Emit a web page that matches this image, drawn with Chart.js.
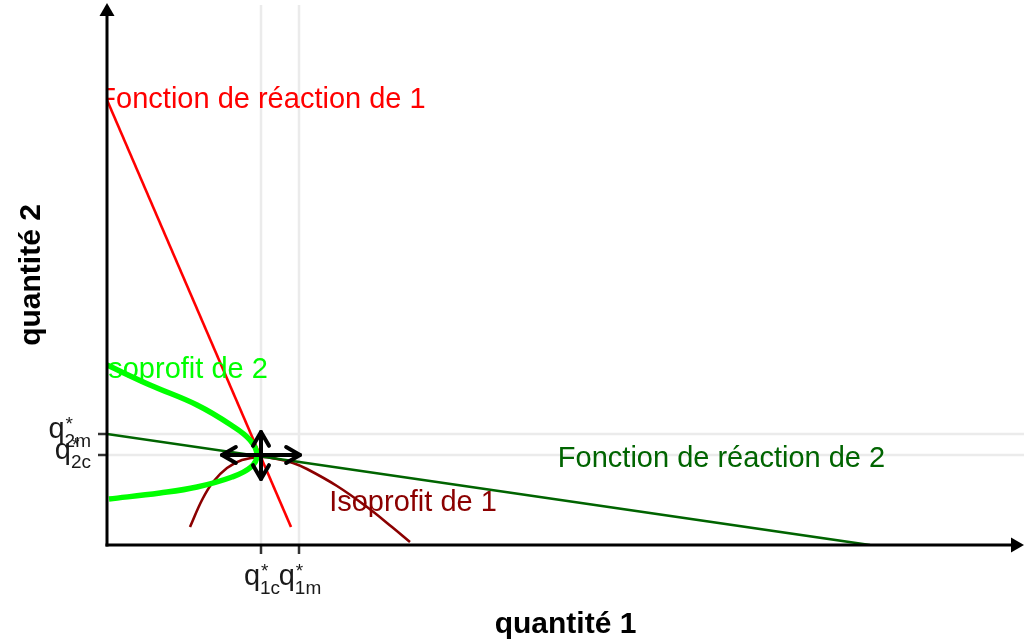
<!DOCTYPE html>
<html>
<head>
<meta charset="utf-8">
<script src="https://cdn.jsdelivr.net/npm/chart.js@4.4.0/dist/chart.umd.min.js"></script>
<style>
  html, body { margin: 0; padding: 0; background: #fff; }
  #wrap { width: 1024px; height: 640px; }
</style>
</head>
<body>
<div id="wrap"><canvas id="chart" width="1024" height="640"></canvas></div>
<script>
// values (quantity units)
const reaction1Q1 = [0, 1.84];
const reaction1Q2 = [4.45, 0.18];

const reaction2Q1 = [0, 7.63];
const reaction2Q2 = [1.11, 0];

const iso1Q1 = [0.83, 0.95, 1.06, 1.2, 1.35, 1.54, 1.7, 1.86, 2.0, 2.3, 2.6, 2.85, 3.03];
const iso1Q2 = [0.18, 0.45, 0.63, 0.77, 0.85, 0.88, 0.86, 0.82, 0.76, 0.59, 0.38, 0.18, 0.03];

const iso2Q1 = [0, 0.43, 0.9, 1.24, 1.43, 1.5, 1.44, 1.25, 0.9, 0.53, 0.02];
const iso2Q2 = [1.8, 1.6, 1.4, 1.2, 1.05, 0.9, 0.78, 0.68, 0.58, 0.52, 0.46];

// equilibrium arrows (ends)
const eqArrowQ1 = [1.15, 1.93];
const eqArrowQ2 = [1.13, 0.66];

// tick positions + labels
const tickQ1 = [1.54, 1.92];
const tickQ1Subs = ["1c", "1m"];
const tickQ2 = [1.11, 0.9];
const tickQ2Subs = ["2m", "2c"];

// text annotations
const labelTexts = ["Fonction de réaction de 1", "Isoprofit de 2", "Fonction de réaction de 2", "Isoprofit de 1"];
const labelQ1 = [1.55, 0.77, 6.145, 3.06];
const labelQ2 = [4.455, 1.755, 0.865, 0.425];
const labelColors = ["#ff0000", "#00ff00", "#006400", "#8b0000"];

const FONT = '"Liberation Sans", Arial, Helvetica, sans-serif';

function pts(xs, ys) {
  return xs.map((v, i) => ({ x: v, y: ys[i] }));
}

function seg(ctx, x1, y1, x2, y2) {
  ctx.beginPath();
  ctx.moveTo(x1, y1);
  ctx.lineTo(x2, y2);
  ctx.stroke();
}

// open chevron head, tip at (tx, ty), pointing along angle
function openHead(ctx, tx, ty, angle) {
  const len = 16, spread = Math.PI / 6;
  ctx.beginPath();
  ctx.moveTo(tx - len * Math.cos(angle - spread), ty - len * Math.sin(angle - spread));
  ctx.lineTo(tx, ty);
  ctx.lineTo(tx - len * Math.cos(angle + spread), ty - len * Math.sin(angle + spread));
  ctx.stroke();
}

function closedHead(ctx, tx, ty, angle) {
  const len = 13, half = 7.5;
  const bx = tx - len * Math.cos(angle), by = ty - len * Math.sin(angle);
  ctx.beginPath();
  ctx.moveTo(tx, ty);
  ctx.lineTo(bx + half * Math.sin(angle), by - half * Math.cos(angle));
  ctx.lineTo(bx - half * Math.sin(angle), by + half * Math.cos(angle));
  ctx.closePath();
  ctx.fill();
}

// q with superscript * and a subscript
function qLabel(ctx, sub, left, base) {
  ctx.font = "29px " + FONT;
  ctx.textAlign = "left";
  ctx.textBaseline = "alphabetic";
  ctx.fillText("q", left, base);
  const wq = ctx.measureText("q").width;
  ctx.font = "19px " + FONT;
  ctx.fillText("*", left + wq + 1, base - 8);
  ctx.fillText(sub, left + wq, base + 9);
}

function qWidth(ctx, sub) {
  ctx.font = "29px " + FONT;
  const wq = ctx.measureText("q").width;
  ctx.font = "19px " + FONT;
  return wq + ctx.measureText(sub).width;
}

const decor = {
  id: "decor",
  beforeDatasetsDraw(chart) {
    const { ctx, chartArea: a, scales: { x, y } } = chart;
    ctx.save();
    ctx.strokeStyle = "#ebebeb";
    ctx.lineWidth = 2.5;
    tickQ1.forEach((v) => {
      const px = x.getPixelForValue(v);
      seg(ctx, px, a.top, px, a.bottom);
    });
    tickQ2.forEach((v) => {
      const py = y.getPixelForValue(v);
      seg(ctx, a.left, py, chart.width, py);
    });
    ctx.restore();
  },
  afterDatasetsDraw(chart) {
    const { ctx, chartArea: a, scales: { x, y } } = chart;
    const x0 = x.getPixelForValue(0), y0 = y.getPixelForValue(0);

    // annotations, clipped to the panel
    ctx.save();
    ctx.beginPath();
    ctx.rect(a.left, a.top, a.right - a.left, a.bottom - a.top);
    ctx.clip();
    ctx.font = "29px " + FONT;
    ctx.textAlign = "center";
    ctx.textBaseline = "middle";
    labelTexts.forEach((t, i) => {
      ctx.fillStyle = labelColors[i];
      ctx.fillText(t, x.getPixelForValue(labelQ1[i]), y.getPixelForValue(labelQ2[i]));
    });
    ctx.restore();

    ctx.save();
    // equilibrium arrows
    ctx.strokeStyle = "#000";
    ctx.lineWidth = 4;
    ctx.lineCap = "round";
    ctx.lineJoin = "round";
    const ex = x.getPixelForValue(tickQ1[0]), ey = y.getPixelForValue(tickQ2[1]);
    const hl = x.getPixelForValue(eqArrowQ1[0]), hr = x.getPixelForValue(eqArrowQ1[1]);
    const vt = y.getPixelForValue(eqArrowQ2[0]), vb = y.getPixelForValue(eqArrowQ2[1]);
    seg(ctx, hl, ey, hr, ey);
    openHead(ctx, hl, ey, Math.PI);
    openHead(ctx, hr, ey, 0);
    seg(ctx, ex, vt, ex, vb);
    openHead(ctx, ex, vt, -Math.PI / 2);
    openHead(ctx, ex, vb, Math.PI / 2);

    // ticks
    ctx.lineCap = "butt";
    ctx.strokeStyle = "#333";
    ctx.lineWidth = 2.5;
    tickQ1.forEach((v) => {
      const px = x.getPixelForValue(v);
      seg(ctx, px, y0, px, y0 + 9);
    });
    tickQ2.forEach((v) => {
      const py = y.getPixelForValue(v);
      seg(ctx, x0 - 9, py, x0, py);
    });

    // axes with arrows
    ctx.strokeStyle = "#000";
    ctx.fillStyle = "#000";
    ctx.lineWidth = 3;
    const yTop = y.getPixelForValue(y.max) - 2;
    const xEnd = x.getPixelForValue(x.max) + 2;
    seg(ctx, x0, y0 + 1.5, x0, yTop + 10);
    closedHead(ctx, x0, yTop, -Math.PI / 2);
    seg(ctx, x0 - 1.5, y0, xEnd - 10, y0);
    closedHead(ctx, xEnd, y0, 0);

    // tick labels
    ctx.fillStyle = "#1a1a1a";
    tickQ1.forEach((v, i) => {
      const w = qWidth(ctx, tickQ1Subs[i]);
      qLabel(ctx, tickQ1Subs[i], x.getPixelForValue(v) - w / 2 + 1, y0 + 40);
    });
    tickQ2.forEach((v, i) => {
      const w = qWidth(ctx, tickQ2Subs[i]);
      qLabel(ctx, tickQ2Subs[i], x0 - 16 - w, y.getPixelForValue(v) + 4);
    });

    // axis titles
    ctx.fillStyle = "#000";
    ctx.font = "bold 30px " + FONT;
    ctx.textAlign = "center";
    ctx.textBaseline = "alphabetic";
    ctx.fillText("quantité 1", (a.left + chart.width) / 2, 633);
    ctx.translate(40, (a.top + a.bottom) / 2);
    ctx.rotate(-Math.PI / 2);
    ctx.fillText("quantité 2", 0, 0);
    ctx.restore();
  }
};

new Chart(document.getElementById("chart"), {
  type: "scatter",
  data: {
    datasets: [
      {
        label: "Isoprofit de 2",
        data: pts(iso2Q1, iso2Q2),
        showLine: true,
        borderColor: "#00ff00",
        borderWidth: 5.5,
        tension: 0.4,
        pointRadius: 0
      },
      {
        label: "Fonction de réaction de 1",
        data: pts(reaction1Q1, reaction1Q2),
        showLine: true,
        borderColor: "#ff0000",
        borderWidth: 2.6,
        pointRadius: 0
      },
      {
        label: "Fonction de réaction de 2",
        data: pts(reaction2Q1, reaction2Q2),
        showLine: true,
        borderColor: "#006400",
        borderWidth: 2.6,
        pointRadius: 0
      },
      {
        label: "Isoprofit de 1",
        data: pts(iso1Q1, iso1Q2),
        showLine: true,
        borderColor: "#8b0000",
        borderWidth: 2.6,
        tension: 0.4,
        pointRadius: 0
      }
    ]
  },
  options: {
    responsive: false,
    animation: false,
    devicePixelRatio: 1,
    layout: { padding: { left: 107, right: 2, top: 5, bottom: 95 } },
    plugins: { legend: { display: false }, tooltip: { enabled: false } },
    scales: {
      x: { type: "linear", min: 0, max: 9.15, display: false },
      y: { type: "linear", min: 0, max: 5.4, display: false }
    }
  },
  plugins: [decor]
});
</script>
</body>
</html>
